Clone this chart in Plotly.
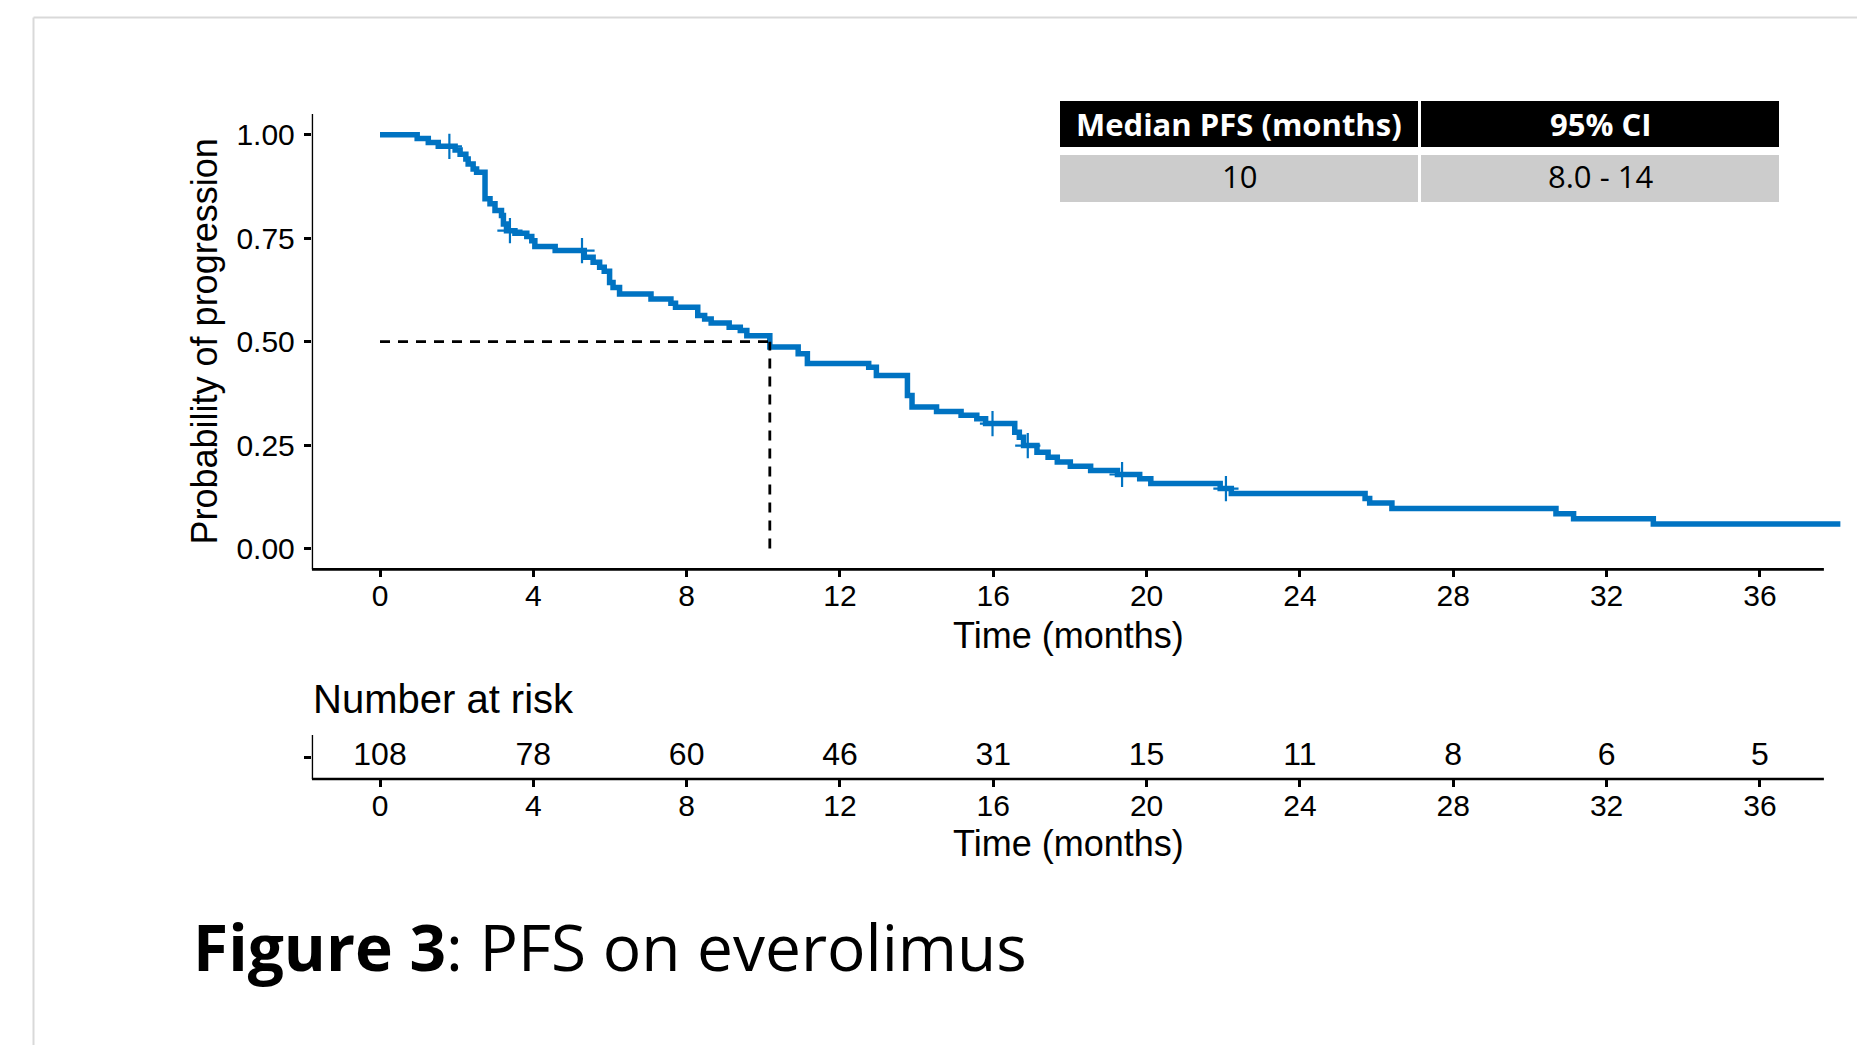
import plotly.graph_objects as go

# ---- data -------------------------------------------------------------
# Kaplan-Meier step function: time of each step (months) and survival after it
km_times = [0, 0.97, 1.26, 1.52, 1.96, 2.09, 2.24, 2.30, 2.43, 2.52, 2.74, 2.87,
            3.00, 3.17, 3.22, 3.30, 3.52, 3.83, 3.96, 4.04, 4.57, 5.33, 5.56,
            5.73, 5.85, 5.99, 6.08, 6.25, 7.07, 7.59, 7.71, 8.29, 8.47, 8.64,
            9.11, 9.40, 9.57, 10.17, 10.91, 11.15, 12.75, 12.95, 13.76, 13.88,
            14.52, 15.16, 15.57, 15.80, 16.56, 16.68, 16.79, 17.14, 17.43,
            17.67, 18.01, 18.54, 19.24, 19.82, 20.11, 21.92, 22.21, 25.70,
            25.82, 26.40, 30.68, 31.14, 33.22, 38.1]
km_surv = [1.0, 0.991, 0.981, 0.972, 0.963, 0.953, 0.941, 0.929, 0.917, 0.909,
           0.845, 0.833, 0.817, 0.805, 0.784, 0.768, 0.762, 0.754, 0.744, 0.730,
           0.720, 0.704, 0.692, 0.680, 0.670, 0.643, 0.631, 0.615, 0.603, 0.593,
           0.583, 0.563, 0.555, 0.545, 0.535, 0.527, 0.514, 0.487, 0.471, 0.447,
           0.438, 0.418, 0.370, 0.342, 0.331, 0.322, 0.314, 0.302, 0.281, 0.269,
           0.249, 0.233, 0.221, 0.209, 0.199, 0.189, 0.179, 0.169, 0.157, 0.145,
           0.133, 0.121, 0.110, 0.0966, 0.0845, 0.0724, 0.0594, 0.0594]

# censored observations (months)
censor_times = [1.81, 3.39, 5.27, 15.98, 16.90, 19.36, 22.07]

# number at risk table
risk_times = [0, 4, 8, 12, 16, 20, 24, 28, 32, 36]
at_risk = [108, 78, 60, 46, 31, 15, 11, 8, 6, 5]

# summary table
ci_low, ci_high = 8.0, 14
x_ticks = [0, 4, 8, 12, 16, 20, 24, 28, 32, 36]
y_ticks = [0.0, 0.25, 0.50, 0.75, 1.00]
y_tick_text = ["0.00", "0.25", "0.50", "0.75", "1.00"]

# ---- derived values ---------------------------------------------------
def surv_at(t):
    s = km_surv[0]
    for tt, ss in zip(km_times, km_surv):
        if tt <= t:
            s = ss
    return s

censor_surv = [surv_at(t) for t in censor_times]
median_months = next(t for t, s in zip(km_times, km_surv) if s <= 0.5)

# ---- page geometry (pixels) -------------------------------------------
W, H = 1857, 1045
BLUE = "#0073C2"
SANS = "Liberation Sans, Arial, sans-serif"
CAL = "Open Sans, Noto Sans, sans-serif"


def px(x):
    return x / W


def py(y):
    return 1 - y / H


X_MIN, X_MAX, X_AXIS_END = -1.78, 38.2, 37.67
ORIGIN_PX, PX_PER_MONTH = 380.0, 38.33
left_px = ORIGIN_PX + X_MIN * PX_PER_MONTH
right_px = ORIGIN_PX + X_MAX * PX_PER_MONTH
x_domain = [px(left_px), px(right_px)]

fig = go.Figure()

# survival curve
fig.add_trace(go.Scatter(
    x=km_times, y=km_surv, mode="lines", line_shape="hv",
    line=dict(color=BLUE, width=5.5), xaxis="x", yaxis="y",
    showlegend=False, hoverinfo="skip"))

# censor marks
fig.add_trace(go.Scatter(
    x=censor_times, y=censor_surv, mode="markers",
    marker=dict(symbol="cross-thin", size=18, line=dict(color=BLUE, width=2.2)),
    xaxis="x", yaxis="y", showlegend=False, hoverinfo="skip"))

# number at risk
fig.add_trace(go.Scatter(
    x=risk_times, y=[0] * len(risk_times), mode="text",
    text=[str(n) for n in at_risk],
    textfont=dict(family=SANS, size=32, color="black"),
    textposition="middle center",
    xaxis="x2", yaxis="y2", showlegend=False, hoverinfo="skip"))

axis_common = dict(
    showline=False, showgrid=False, zeroline=False,
    ticks="outside", ticklen=7, tickwidth=2.5, tickcolor="black",
    tickfont=dict(family=SANS, size=30, color="black"),
)

fig.update_layout(
    width=W, height=H,
    margin=dict(l=0, r=0, t=0, b=0),
    paper_bgcolor="white", plot_bgcolor="white",
    xaxis=dict(domain=x_domain, range=[X_MIN, X_MAX], tickvals=x_ticks,
               anchor="y", ticklabelstandoff=-7, **axis_common),
    yaxis=dict(domain=[py(569.3), py(114)], range=[-0.05, 1.05],
               tickvals=y_ticks, ticktext=y_tick_text, anchor="x",
               ticklabelstandoff=3, **axis_common),
    xaxis2=dict(domain=x_domain, range=[X_MIN, X_MAX], tickvals=x_ticks,
                anchor="y2", ticklabelstandoff=-7, **axis_common),
    yaxis2=dict(domain=[py(779), py(735)], range=[-0.5, 0.5],
                tickvals=[0], ticktext=[""], anchor="x2", **axis_common),
)

AX = dict(color="black", width=2.7)
DASH = dict(color="black", width=2.8, dash="10px,8px")
shapes = [
    # axis lines of the survival panel
    dict(type="line", xref="x", yref="y domain", x0=X_MIN, x1=X_MIN, y0=0, y1=1, line=AX),
    dict(type="line", xref="x", yref="y domain", x0=X_MIN, x1=X_AXIS_END, y0=0, y1=0, line=AX),
    # axis lines of the risk table
    dict(type="line", xref="x2", yref="y2 domain", x0=X_MIN, x1=X_MIN, y0=0, y1=1, line=AX),
    dict(type="line", xref="x2", yref="y2 domain", x0=X_MIN, x1=X_AXIS_END, y0=0, y1=0, line=AX),
    # median guide lines
    dict(type="line", xref="x", yref="y", x0=0, x1=median_months, y0=0.5, y1=0.5, line=DASH),
    dict(type="line", xref="x", yref="y", x0=median_months, x1=median_months, y0=0, y1=0.5,
         line=DASH),
    # page frame
    dict(type="line", xref="paper", yref="paper", x0=px(33.5), x1=px(33.5), y0=0, y1=py(17.5),
         line=dict(color="#d9d9d9", width=2)),
    dict(type="line", xref="paper", yref="paper", x0=px(33.5), x1=1, y0=py(17.5), y1=py(17.5),
         line=dict(color="#d9d9d9", width=2)),
]

# summary table cells
col_edges = [(1060, 1418), (1421, 1779)]
for (x0, x1) in col_edges:
    shapes.append(dict(type="rect", xref="paper", yref="paper", x0=px(x0), x1=px(x1),
                       y0=py(147), y1=py(101), fillcolor="black", line=dict(width=0),
                       layer="below"))
    shapes.append(dict(type="rect", xref="paper", yref="paper", x0=px(x0), x1=px(x1),
                       y0=py(202), y1=py(155), fillcolor="#cccccc", line=dict(width=0),
                       layer="below"))
fig.update_layout(shapes=shapes)

annotations = []
headers = ["<b>Median PFS (months)</b>", "<b>95% CI</b>"]
values = [f"{median_months:.0f}", f"{ci_low:.1f} - {ci_high:.0f}"]
for (x0, x1), h, v in zip(col_edges, headers, values):
    xc = px((x0 + x1) / 2)
    annotations.append(dict(text=h, x=xc, y=py(124), xref="paper", yref="paper",
                            showarrow=False, xanchor="center", yanchor="middle",
                            font=dict(family=CAL, size=31, color="white")))
    annotations.append(dict(text=v, x=xc, y=py(176), xref="paper", yref="paper",
                            showarrow=False, xanchor="center", yanchor="middle",
                            font=dict(family=CAL, size=31, color="black")))

# axis titles and headings
annotations += [
    dict(text="Probability of progression", x=px(204), y=py(341.5), xref="paper", yref="paper",
         textangle=-90, showarrow=False, xanchor="center", yanchor="middle",
         font=dict(family=SANS, size=36, color="black")),
    dict(text="Time (months)", x=px(1068), y=py(635), xref="paper", yref="paper",
         showarrow=False, xanchor="center", yanchor="middle",
         font=dict(family=SANS, size=36, color="black")),
    dict(text="Number at risk", x=px(311), y=py(699), xref="paper", yref="paper",
         showarrow=False, xanchor="left", yanchor="middle",
         font=dict(family=SANS, size=40, color="black")),
    dict(text="Time (months)", x=px(1068), y=py(843), xref="paper", yref="paper",
         showarrow=False, xanchor="center", yanchor="middle",
         font=dict(family=SANS, size=36, color="black")),
    dict(text="<b>Figure 3</b>: PFS on everolimus", x=px(191), y=py(946), xref="paper",
         yref="paper", showarrow=False, xanchor="left", yanchor="middle",
         font=dict(family=CAL, size=64, color="black")),
]
fig.update_layout(annotations=annotations)

fig.write_html("out.html")
